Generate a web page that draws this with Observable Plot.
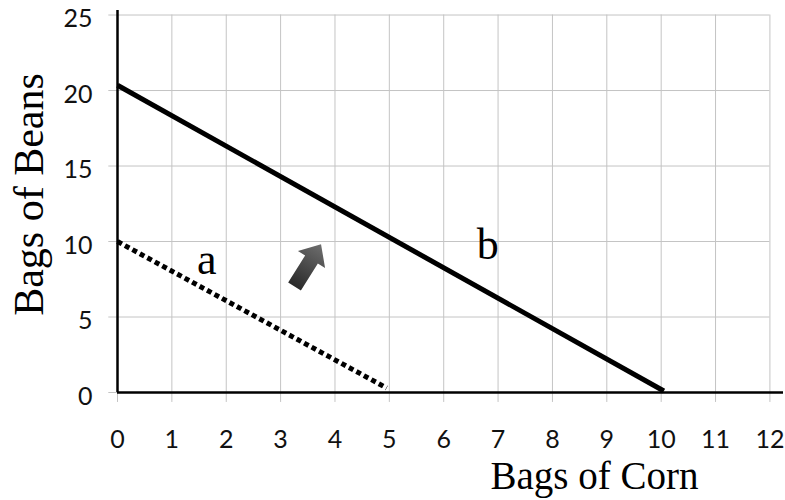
<!DOCTYPE html>
<html><head><meta charset="utf-8">
<script src="https://cdn.jsdelivr.net/npm/d3@7"></script>
<script src="https://cdn.jsdelivr.net/npm/@observablehq/plot@0.6"></script>
<style>body{margin:0;background:#fff}</style>
</head><body><div id="chart"></div>
<script>
// ---- data ----
const xTicks = [0, 1, 2, 3, 4, 5, 6, 7, 8, 9, 10, 11, 12];
const yTicks = [0, 5, 10, 15, 20, 25];
const lineB = [{corn: 0, beans: 20.35}, {corn: 10.05, beans: 0.1}];
const lineA = [{corn: 0, beans: 10}, {corn: 4.95, beans: 0.3}];
const labelA = ["a"];
const labelB = ["b"];
const arrowMark = ["shift"];
const xLabel = ["Bags of Corn"];
const yLabel = ["Bags of Beans"];

// custom arrow symbol (points up before rotation)
const arrowSymbol = {
  draw(ctx, size) {
    const k = Math.sqrt(size / Math.PI) / 25;
    const p = [[0, -25], [16, -7], [7.5, -7], [7.5, 25], [-7.5, 25], [-7.5, -7], [-16, -7]];
    ctx.moveTo(p[0][0] * k, p[0][1] * k);
    for (let i = 1; i < p.length; i++) ctx.lineTo(p[i][0] * k, p[i][1] * k);
    ctx.closePath();
  }
};

const defs = () => {
  const g = d3.create("svg:g");
  const lg = g.append("defs").append("linearGradient")
    .attr("id", "arrowGrad").attr("x1", 0).attr("y1", 0).attr("x2", 0).attr("y2", 1);
  lg.append("stop").attr("offset", "0%").attr("stop-color", "#6e6e6e");
  lg.append("stop").attr("offset", "100%").attr("stop-color", "#2a2a2a");
  return g.node();
};

const serif = "'Liberation Serif', 'Times New Roman', serif";
const gridColor = "#c4c4c4";

const chart = Plot.plot({
  width: 785,
  height: 500,
  marginLeft: 117,
  marginRight: 2,
  marginTop: 10,
  marginBottom: 108,
  x: {domain: [0, 12.25]},
  y: {domain: [0, 25.3]},
  style: {fontFamily: "Lato, 'Open Sans', sans-serif", background: "#fff", color: "#111"},
  marks: [
    defs,
    Plot.gridX(xTicks, {y1: -0.66, y2: 25, stroke: gridColor, strokeOpacity: 1, strokeWidth: 1}),
    Plot.gridY(yTicks, {x1: -0.16, x2: 12, stroke: gridColor, strokeOpacity: 1, strokeWidth: 1}),
    Plot.axisX(xTicks, {tickSize: 0, tickPadding: 38, fontSize: 25, label: null}),
    Plot.axisY(yTicks, {tickSize: 0, tickPadding: 25, fontSize: 25, label: null, dy: 4}),
    Plot.ruleX([0], {y1: 0, y2: 25.3, stroke: "#000", strokeWidth: 2.5}),
    Plot.ruleY([0], {x1: 0, x2: 12.25, stroke: "#000", strokeWidth: 2.5}),
    Plot.line(lineA, {x: "corn", y: "beans", stroke: "#000", strokeWidth: 5, strokeDasharray: "5,3.5", strokeLinecap: "butt"}),
    Plot.line(lineB, {x: "corn", y: "beans", stroke: "#000", strokeWidth: 5, strokeLinecap: "butt"}),
    Plot.text(labelA, {x: 1.64, y: 8.75, text: d => d, fontFamily: serif, fontSize: 44, lineAnchor: "middle", fill: "#000"}),
    Plot.text(labelB, {x: 6.81, y: 9.75, text: d => d, fontFamily: serif, fontSize: 44, lineAnchor: "middle", fill: "#000"}),
    Plot.dot(arrowMark, {x: 3.5, y: 8.42, symbol: arrowSymbol, r: 25, rotate: 32, fill: "url(#arrowGrad)", stroke: "none"}),
    Plot.text(xLabel, {frameAnchor: "bottom", text: d => d, dx: 144, dy: 84.5, lineAnchor: "middle", textAnchor: "middle", fontFamily: serif, fontSize: 39, fill: "#000"}),
    Plot.text(yLabel, {frameAnchor: "left", text: d => d, rotate: -90, dx: -88, dy: -7, lineAnchor: "middle", textAnchor: "middle", fontFamily: serif, fontSize: 42, fill: "#000"})
  ]
});
document.getElementById("chart").appendChild(chart);
</script>
</body></html>
